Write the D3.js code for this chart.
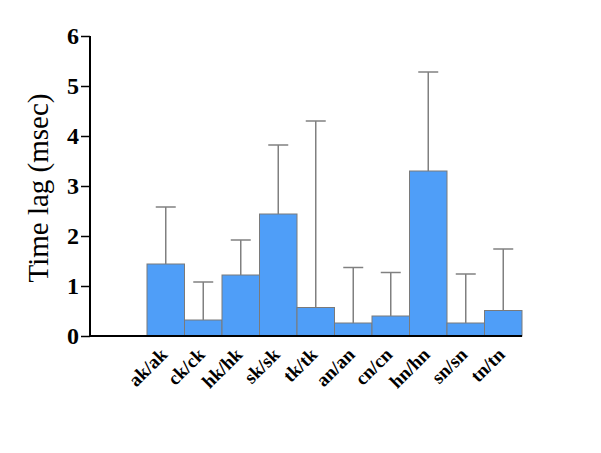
<!DOCTYPE html>
<html>
<head>
<meta charset="utf-8">
<script src="https://cdn.jsdelivr.net/npm/d3@7"></script>
<style>
	body { margin: 0; background: #fff; }
	text { font-family: "Liberation Serif", "Times New Roman", serif; }
</style>
</head>
<body>
<svg id="chart" width="601" height="453"></svg>
<script>
let categories = ["ak/ak", "ck/ck", "hk/hk", "sk/sk", "tk/tk", "an/an", "cn/cn", "hn/hn", "sn/sn", "tn/tn"];
let means = [1.44, 0.32, 1.22, 2.44, 0.57, 0.26, 0.40, 3.30, 0.26, 0.51];
let upper = [2.58, 1.08, 1.92, 3.82, 4.30, 1.37, 1.27, 5.28, 1.24, 1.74];
let yTicks = [0, 1, 2, 3, 4, 5, 6];

let data = categories.map((c, i) => ({ cat: c, v: means[i], hi: upper[i] }));

let svg = d3.select("#chart");

let x = d3.scaleBand()
	.domain(categories)
	.range([147, 522])
	.padding(0);

let y = d3.scaleLinear()
	.domain([0, 6])
	.range([336, 36]);

// bars
svg.append("g")
	.selectAll("rect")
	.data(data)
	.join("rect")
		.attr("x", d => x(d.cat))
		.attr("y", d => y(d.v))
		.attr("width", x.bandwidth())
		.attr("height", d => y(0) - y(d.v))
		.attr("fill", "#4f9ef8")
		.attr("stroke", "#7a7a7a")
		.attr("stroke-width", 1);

// error bars (upper only)
let err = svg.append("g")
	.attr("stroke", "#808080")
	.attr("stroke-width", 1.5);
err.selectAll("line.stem")
	.data(data)
	.join("line")
		.attr("class", "stem")
		.attr("x1", d => x(d.cat) + x.bandwidth() / 2)
		.attr("x2", d => x(d.cat) + x.bandwidth() / 2)
		.attr("y1", d => y(d.v))
		.attr("y2", d => y(d.hi));
err.selectAll("line.cap")
	.data(data)
	.join("line")
		.attr("class", "cap")
		.attr("x1", d => x(d.cat) + x.bandwidth() / 2 - 10)
		.attr("x2", d => x(d.cat) + x.bandwidth() / 2 + 10)
		.attr("y1", d => y(d.hi))
		.attr("y2", d => y(d.hi));

// y axis
let yAxis = svg.append("g")
	.attr("transform", "translate(90,0)")
	.call(d3.axisLeft(y).tickValues(yTicks).tickSize(9).tickPadding(2).tickFormat(d3.format("d")));
yAxis.select(".domain").attr("stroke", "#000").attr("stroke-width", 2).attr("d", `M0,${y(6)}V${y(0)}`);
yAxis.selectAll(".tick line").attr("stroke-width", 1.5);
yAxis.selectAll(".tick text")
	.attr("font-size", 24)
	.attr("font-weight", "bold")
	.attr("fill", "#000")
	.attr("font-family", "Liberation Serif, Times New Roman, serif");

// x axis line
svg.append("line")
	.attr("x1", 89)
	.attr("x2", 522)
	.attr("y1", y(0))
	.attr("y2", y(0))
	.attr("stroke", "#000")
	.attr("stroke-width", 2);

// x labels
svg.append("g")
	.selectAll("text")
	.data(categories)
	.join("text")
		.attr("transform", d => `translate(${x(d) + x.bandwidth() / 2 - 2},${y(0) + 15}) rotate(-45)`)
		.attr("text-anchor", "end")
		.attr("dy", "0.35em")
		.attr("font-size", 19)
		.attr("font-weight", "bold")
		.text(d => d);

// y title
svg.append("text")
	.attr("transform", `translate(48,188) rotate(-90)`)
	.attr("text-anchor", "middle")
	.attr("font-size", 29)
	.text("Time lag (msec)");
</script>
</body>
</html>
